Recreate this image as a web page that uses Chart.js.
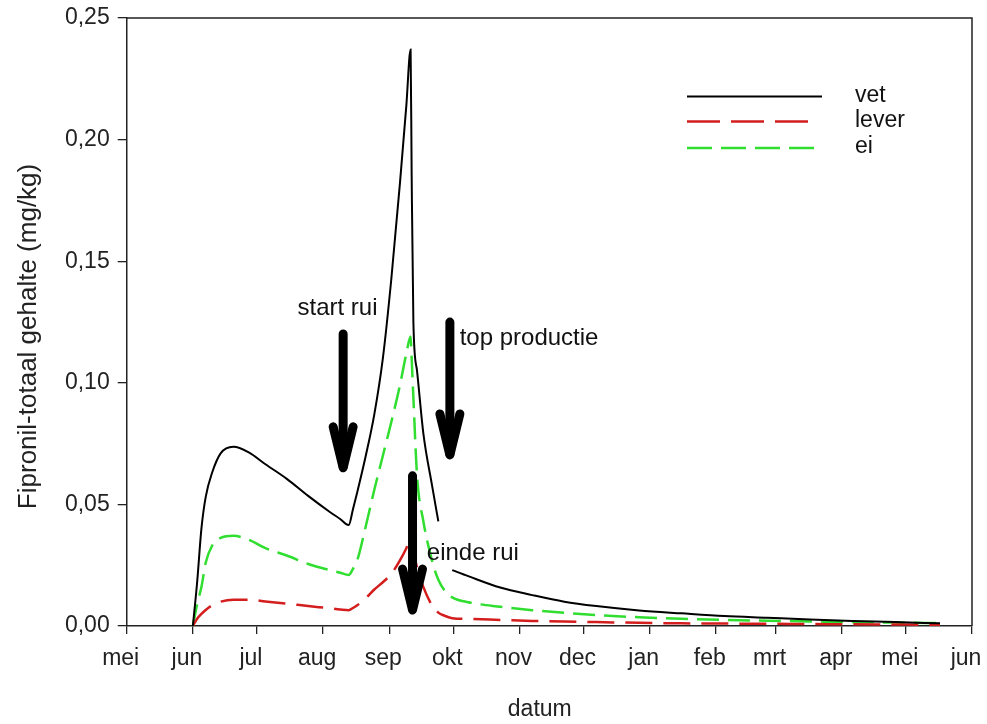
<!DOCTYPE html>
<html>
<head>
<meta charset="utf-8">
<script src="https://cdn.jsdelivr.net/npm/chart.js@4/dist/chart.umd.min.js"></script>
<style>
  html, body { margin: 0; padding: 0; background: #fff; }
</style>
</head>
<body>
<canvas id="chart" width="987" height="724"></canvas>
<script>
// x values are days counted from 1 May
const monthStarts = [0, 31, 61, 92, 123, 153, 184, 214, 245, 276, 304, 335, 365, 396];
const monthLabels = ['mei', 'jun', 'jul', 'aug', 'sep', 'okt', 'nov', 'dec', 'jan', 'feb', 'mrt', 'apr', 'mei', 'jun'];

const days = [31, 33, 35, 37, 40, 44, 50, 57, 65, 75, 85, 95, 100, 104, 106, 108, 112, 116, 120, 124, 128, 131, 133,
    133.5, 134.3, 136, 139, 143, 146, 149, 152.5, 160, 175, 190, 205, 220, 240, 260, 280, 300, 320, 340, 360, 381];

const vet = [0, 0.018, 0.040, 0.053, 0.063, 0.071, 0.0737, 0.0715, 0.0665, 0.0605, 0.0535, 0.047, 0.044, 0.0415,
    0.048, 0.055, 0.070, 0.087, 0.110, 0.143, 0.182, 0.214, 0.237, 0.185, 0.125, 0.105, 0.079, 0.058, 0.043, null,
    0.023, 0.0205, 0.0158, 0.0127, 0.0100, 0.0082, 0.0064, 0.0052, 0.0041, 0.0034, 0.0027, 0.0021, 0.0016, 0.0011];

const lever = [0, 0.003, 0.005, 0.0066, 0.0085, 0.010, 0.0108, 0.0108, 0.0101, 0.0092, 0.0082, 0.0073, 0.0068, 0.0065,
    0.0074, 0.0085, 0.0115, 0.015, 0.018, 0.0215, 0.027, 0.032, 0.036, 0.034, 0.031, 0.024, 0.016, 0.0085, 0.0055, 0.0042,
    0.0032, 0.0029, 0.0025, 0.0021, 0.0018, 0.0016, 0.0013, 0.0011, 0.0010, 0.0009, 0.0008, 0.0007, 0.0006, 0.0005];

const ei = [0, 0.009, 0.016, 0.026, 0.033, 0.0362, 0.0371, 0.0355, 0.032, 0.029, 0.0255, 0.023, 0.0219, 0.021,
    0.0235, 0.027, 0.041, 0.056, 0.070, 0.084, 0.099, 0.112, 0.119, 0.110, 0.094, 0.062, 0.043, 0.027, 0.019, 0.0145,
    0.0118, 0.0098, 0.0079, 0.0065, 0.0054, 0.0045, 0.0036, 0.0030, 0.0025, 0.0022, 0.0019, 0.0016, 0.0014, 0.0012];

const seriesNames = ['vet', 'lever', 'ei'];

const FONT = '"Liberation Sans", Arial, sans-serif';
const INK = '#222';

// arrows + labels, placed in data units (day, mg/kg)
const notes = [
    { text: 'start rui', day: 101.4, from: 0.1217, to: 0.063, textDay: 80, textY: 0.1308 },
    { text: 'top productie', day: 151.4, from: 0.1266, to: 0.0683, textDay: 156, textY: 0.1184 },
    { text: 'einde rui', day: 133.9, from: 0.0634, to: 0.0045, textDay: 140.6, textY: 0.030 },
];

const toPoints = vals => days.map((d, i) => ({ x: d, y: vals[i] }));

function drawArrow(ctx, x, yTop, yTip) {
    ctx.save();
    ctx.strokeStyle = '#000';
    ctx.lineWidth = 9;
    ctx.lineCap = 'round';
    ctx.lineJoin = 'round';
    ctx.beginPath();
    ctx.moveTo(x, yTop + 4);
    ctx.lineTo(x, yTip - 6);
    ctx.stroke();
    ctx.beginPath();
    ctx.moveTo(x - 10, yTip - 46);
    ctx.lineTo(x, yTip - 5);
    ctx.lineTo(x + 10, yTip - 46);
    ctx.stroke();
    ctx.restore();
}

const annotations = {
    id: 'annotations',
    afterDatasetsDraw(chart) {
        const { ctx, scales: { x, y } } = chart;
        notes.forEach(n => {
            drawArrow(ctx, x.getPixelForValue(n.day), y.getPixelForValue(n.from), y.getPixelForValue(n.to));
            ctx.save();
            ctx.fillStyle = '#111';
            ctx.font = '24px ' + FONT;
            ctx.textBaseline = 'middle';
            ctx.fillText(n.text, x.getPixelForValue(n.textDay), y.getPixelForValue(n.textY));
            ctx.restore();
        });
    }
};

// top and right side of the frame
const frame = {
    id: 'frame',
    afterDraw(chart) {
        const { ctx, chartArea: a } = chart;
        ctx.save();
        ctx.strokeStyle = INK;
        ctx.lineWidth = 1.5;
        ctx.beginPath();
        ctx.moveTo(a.left, a.top);
        ctx.lineTo(a.right, a.top);
        ctx.lineTo(a.right, a.bottom);
        ctx.stroke();
        ctx.restore();
    }
};

const legendBox = {
    id: 'legendBox',
    afterDraw(chart) {
        const { ctx } = chart;
        const rows = [96.5, 121.5, 148];
        const ends = [822, 808, 814];
        chart.data.datasets.forEach((ds, i) => {
            ctx.save();
            ctx.strokeStyle = ds.borderColor;
            ctx.lineWidth = ds.borderWidth;
            ctx.setLineDash(ds.legendDash || []);
            ctx.beginPath();
            ctx.moveTo(687, rows[i]);
            ctx.lineTo(ends[i], rows[i]);
            ctx.stroke();
            ctx.setLineDash([]);
            ctx.fillStyle = '#111';
            ctx.font = '23px ' + FONT;
            ctx.textBaseline = 'middle';
            ctx.fillText(seriesNames[i], 855, rows[i] - 1);
            ctx.restore();
        });
    }
};

new Chart(document.getElementById('chart'), {
    type: 'line',
    data: {
        datasets: [
            {
                label: seriesNames[0],
                data: toPoints(vet),
                borderColor: '#000',
                borderWidth: 2,
            },
            {
                label: seriesNames[1],
                data: toPoints(lever),
                borderColor: 'rgb(212, 30, 30)',
                borderWidth: 2.5,
                borderDash: [27, 11],
                legendDash: [33, 11],
            },
            {
                label: seriesNames[2],
                data: toPoints(ei),
                borderColor: 'rgb(48, 222, 48)',
                borderWidth: 2.5,
                borderDash: [22, 9],
                legendDash: [25, 9],
            },
        ],
    },
    options: {
        responsive: false,
        animation: false,
        layout: { padding: { top: 18, right: 15, left: 0, bottom: 0 } },
        elements: {
            point: { radius: 0 },
            line: { cubicInterpolationMode: 'monotone', fill: false },
        },
        spanGaps: false,
        plugins: {
            legend: { display: false },
            tooltip: { enabled: false },
        },
        scales: {
            x: {
                type: 'linear',
                min: 0,
                max: 396,
                afterBuildTicks: scale => {
                    scale.ticks = monthStarts.map(v => ({ value: v }));
                },
                afterFit: scale => {
                    scale.height = 98;
                    scale.paddingLeft = 0;
                    scale.paddingRight = 0;
                },
                ticks: {
                    autoSkip: false,
                    maxRotation: 0,
                    padding: 11,
                    labelOffset: -6,
                    color: INK,
                    font: { family: FONT, size: 23 },
                    callback: (value, index) => monthLabels[index],
                },
                grid: { drawOnChartArea: false, drawTicks: true, tickLength: 8, color: INK, lineWidth: 1.3 },
                border: { color: INK, width: 1.5 },
                title: {
                    display: true,
                    text: 'datum\u00a0\u00a0\u00a0',
                    color: INK,
                    font: { family: FONT, size: 23 },
                    padding: { top: 0, bottom: 1 },
                },
            },
            y: {
                min: 0,
                max: 0.25,
                afterBuildTicks: scale => {
                    scale.ticks = [0, 0.05, 0.10, 0.15, 0.20, 0.25].map(v => ({ value: v }));
                },
                afterFit: scale => {
                    scale.width = 126.7;
                    scale.paddingTop = 0;
                    scale.paddingBottom = 0;
                },
                ticks: {
                    padding: 8,
                    color: INK,
                    font: { family: FONT, size: 23 },
                    callback: value => value.toFixed(2).replace('.', ','),
                },
                grid: { drawOnChartArea: false, drawTicks: true, tickLength: 9, color: INK, lineWidth: 1.3 },
                border: { color: INK, width: 1.5 },
                title: {
                    display: true,
                    text: 'Fipronil-totaal gehalte (mg/kg)\u00a0\u00a0\u00a0\u00a0',
                    color: INK,
                    font: { family: FONT, size: 26 },
                    padding: { top: 13, bottom: 0 },
                },
            },
        },
    },
    plugins: [annotations, frame, legendBox],
});
</script>
</body>
</html>
